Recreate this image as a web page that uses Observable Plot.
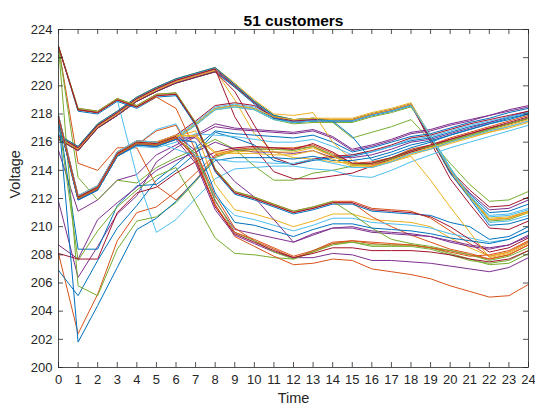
<!DOCTYPE html>
<html>
<head>
<meta charset="utf-8">
<script src="https://cdn.jsdelivr.net/npm/d3@7"></script>
<script src="https://cdn.jsdelivr.net/npm/@observablehq/plot@0.6"></script>
<style>
  html, body { margin: 0; padding: 0; background: #fff; }
  #chart { width: 535px; height: 408px; }
</style>
</head>
<body>
<div id="chart"></div>
<script>
const title = "51 customers";
const xLabel = "Time";
const yLabel = "Voltage";
const hours = [0,1,2,3,4,5,6,7,8,9,10,11,12,13,14,15,16,17,18,19,20,21,22,23,24];
const yTicks = [200,202,204,206,208,210,212,214,216,218,220,222,224];

// Voltage of each customer, hours 0..24
const c01 = [217.7,212.0,212.7,215.1,215.9,215.8,216.3,217.3,218.4,218.6,218.4,217.7,217.4,217.5,217.5,217.5,217.9,218.2,218.6,216.3,213.9,212.3,211.0,211.1,211.6];
const c02 = [216.2,215.4,217.0,217.9,218.9,219.6,220.2,220.6,221.0,219.9,218.8,217.8,217.5,217.6,217.6,217.6,218.0,218.3,218.7,216.3,213.8,212.1,210.5,210.6,211.1];
const c03 = [216.4,215.6,217.2,218.1,219.1,219.8,220.4,220.8,221.2,220.1,218.9,217.9,217.6,217.7,217.7,217.7,218.1,218.4,218.8,216.4,214.1,212.2,210.6,210.7,211.1];
const c04 = [216.4,215.6,217.2,218.1,219.1,219.8,220.4,220.8,221.2,220.0,218.8,217.8,217.5,217.6,217.6,217.6,218.0,218.3,218.7,216.3,213.9,212.4,211.2,211.3,211.9];
const c05 = [216.5,215.7,217.3,218.2,219.2,219.9,220.5,220.9,221.3,220.1,218.9,217.9,217.6,217.7,217.4,216.3,216.7,217.1,217.6,216.1,214.5,213.0,211.8,211.9,212.5];
const c06 = [216.2,215.4,217.0,217.9,218.9,219.6,220.2,220.6,221.0,220.0,218.8,217.8,217.5,217.6,217.6,217.6,218.0,218.3,218.7,216.4,214.0,212.2,210.8,210.9,211.3];
const c07 = [216.3,215.5,217.1,218.0,219.0,219.7,220.3,220.7,221.1,220.0,218.8,217.7,217.4,217.5,217.5,217.5,217.9,218.2,218.6,216.2,214.0,212.6,211.4,211.5,212.1];
const c08 = [216.2,215.4,217.0,217.9,218.9,219.6,220.2,220.6,221.0,219.9,218.7,217.7,217.4,217.5,217.5,217.5,217.9,218.2,218.6,216.4,213.8,212.0,210.1,210.2,210.6];
const c09 = [208.1,202.4,205.2,209.0,211.0,211.4,212.5,213.8,215.1,215.5,215.6,215.6,215.6,215.8,215.2,214.5,214.6,214.9,215.5,215.8,216.3,216.7,217.1,217.5,217.9];
const c10 = [216.3,215.5,217.1,218.0,219.0,219.7,220.3,220.7,221.1,219.0,216.6,215.3,214.9,214.8,214.6,214.5,214.2,214.6,215.1,215.5,215.9,216.3,216.7,217.0,217.4];
const c11 = [215.4,211.1,211.9,213.3,213.7,215.1,215.8,216.5,217.3,217.0,216.9,216.8,216.7,216.9,216.4,215.5,215.8,216.2,216.7,216.9,217.3,217.6,217.9,218.3,218.6];
const c12 = [217.6,211.9,212.6,215.0,215.8,215.7,216.2,217.2,218.3,218.5,218.3,217.6,217.3,217.4,217.4,217.4,217.8,218.1,218.5,216.5,214.2,212.2,210.4,210.5,211.0];
const c13 = [217.8,212.1,212.8,215.2,216.0,215.9,216.4,217.4,218.5,218.7,218.5,217.8,217.5,217.6,217.6,217.6,218.0,218.3,218.7,216.5,214.2,212.1,210.3,210.4,210.8];
const c14 = [217.9,212.2,212.9,215.3,216.1,216.0,216.5,217.5,218.6,218.8,218.6,217.8,217.5,217.6,217.6,217.6,218.0,218.3,218.7,216.0,213.4,211.6,209.9,209.8,210.4];
const c15 = [206.9,205.1,207.6,209.9,211.5,213.3,214.4,215.6,216.8,216.6,216.5,216.4,216.3,216.5,216.0,215.3,215.6,216.0,216.4,216.6,217.0,217.4,217.7,218.1,218.4];
const c16 = [222.8,214.5,214.0,215.6,215.6,212.9,211.9,213.3,215.0,215.4,215.5,215.5,215.5,215.7,215.0,214.4,214.4,214.8,215.3,215.7,216.1,216.5,216.9,217.3,217.7];
const c17 = [216.5,215.7,217.3,218.2,219.2,219.9,220.5,220.9,221.3,220.2,219.0,218.0,217.9,218.1,216.0,214.7,214.2,214.7,215.2,215.6,216.0,216.4,216.8,217.2,217.6];
const c18 = [211.8,206.4,208.6,210.9,212.2,214.6,215.6,216.4,217.1,216.9,216.8,216.7,216.6,216.8,216.3,215.4,215.7,216.1,216.6,216.8,217.2,217.5,217.9,218.2,218.5];
const c19 = [222.8,213.5,211.9,213.3,213.1,214.2,214.9,215.5,216.2,215.5,214.3,213.3,213.3,213.8,214.0,214.3,214.5,214.9,215.4,215.7,216.1,216.5,216.9,217.3,217.7];
const c20 = [222.8,218.3,218.1,219.0,213.6,209.6,210.5,212.0,213.4,214.1,214.2,214.3,214.3,214.1,214.0,213.6,213.5,214.0,214.6,215.1,215.6,216.0,216.4,216.8,217.2];
const c21 = [216.4,215.6,217.2,218.1,219.1,219.8,220.4,220.8,221.2,217.8,215.6,213.9,213.4,213.4,213.6,213.8,214.3,214.8,215.3,215.7,216.2,216.6,217.0,217.3,217.7];
const c22 = [217.9,208.4,208.4,211.5,212.9,213.0,214.0,215.2,216.7,216.3,215.8,214.7,214.4,214.7,214.9,215.0,215.3,215.7,216.1,216.3,216.7,217.1,217.4,217.8,218.1];
const c23 = [222.8,218.4,218.2,219.1,218.6,219.4,219.5,217.4,214.1,212.5,212.1,211.6,211.1,211.4,211.8,211.8,211.3,211.2,211.1,210.6,209.7,208.8,207.9,208.2,208.9];
const c24 = [217.8,212.1,212.8,215.2,216.0,215.9,216.4,216.8,213.0,211.2,210.9,210.5,210.0,210.4,210.9,210.9,210.5,210.4,210.3,210.0,209.2,208.5,207.9,208.2,209.0];
const c25 = [208.7,207.7,210.5,211.7,212.8,214.0,214.7,215.3,216.0,215.5,215.3,215.3,215.2,215.4,214.9,214.9,215.1,215.5,216.0,216.2,216.6,217.0,217.4,217.8,218.2];
const c26 = [222.8,205.8,205.1,208.4,210.4,210.7,211.7,213.2,214.9,215.4,215.5,215.5,215.4,215.7,215.1,214.4,214.5,214.8,215.4,215.7,216.1,216.5,216.9,217.3,217.7];
const c27 = [217.6,211.9,212.6,215.0,215.7,215.6,216.0,216.6,216.5,216.4,216.2,216.0,216.0,216.2,215.7,215.1,215.3,215.7,216.2,216.4,216.8,217.2,217.5,217.8,218.1];
const c28 = [216.2,215.4,217.0,217.9,218.9,219.6,220.2,220.6,221.0,219.6,217.2,214.9,214.4,214.8,215.0,215.1,215.4,215.8,216.3,216.5,216.9,217.3,217.6,217.9,218.2];
const c29 = [216.5,215.7,217.3,218.2,219.2,219.9,220.5,220.9,221.3,220.1,218.9,217.9,217.6,217.7,217.5,216.4,214.7,215.1,215.6,216.0,216.5,216.9,217.3,217.7,218.0];
const c30 = [222.8,218.3,218.1,219.0,218.5,219.3,219.4,217.3,214.0,212.4,212.0,211.5,211.0,211.3,211.7,211.7,210.7,210.0,209.4,208.9,208.4,208.1,207.7,208.0,208.7];
const c31 = [217.7,212.0,212.7,215.1,215.9,215.8,216.3,217.3,218.4,218.6,218.4,217.8,217.6,217.7,217.6,217.6,218.0,218.3,218.7,216.4,214.0,212.1,210.5,210.6,211.0];
const c32 = [217.9,212.2,212.9,215.3,216.1,216.0,216.5,215.4,211.8,209.8,209.5,209.2,208.9,209.4,209.9,209.9,209.6,209.5,209.4,209.3,208.9,208.6,208.4,208.7,209.3];
const c33 = [217.6,207.6,209.7,211.4,212.6,213.6,214.2,211.7,209.2,208.1,208.0,207.8,207.7,208.3,208.8,208.9,208.6,208.6,208.6,208.4,208.0,207.6,207.4,207.6,208.3];
const c34 = [217.6,211.9,212.6,215.0,215.8,216.9,217.3,214.9,212.1,210.8,210.5,210.1,209.7,210.1,210.6,210.6,210.3,210.2,210.1,209.9,209.5,209.2,208.9,209.1,209.7];
const c35 = [208.1,207.7,207.7,211.0,212.4,212.8,213.8,214.6,215.3,215.6,215.7,215.6,215.5,215.9,215.3,214.5,214.5,214.9,215.4,215.8,216.2,216.6,217.0,217.4,217.8];
const c36 = [222.8,218.2,218.0,218.9,218.4,219.2,219.3,217.2,213.9,212.3,211.9,211.4,210.9,211.2,211.6,211.6,211.1,211.0,210.9,210.8,210.3,210.0,209.1,209.3,210.0];
const c37 = [222.8,218.3,218.1,219.0,218.5,219.2,218.4,215.4,212.2,209.9,209.0,208.4,207.8,208.2,208.8,209.0,208.8,208.7,208.7,208.5,208.3,208.0,207.7,208.0,208.7];
const c38 = [217.8,212.1,212.8,215.2,216.0,215.9,216.4,216.5,215.3,215.3,215.4,215.3,215.3,215.6,215.0,214.4,214.3,214.7,215.2,215.6,216.0,216.4,216.7,217.1,217.5];
const c39 = [217.7,212.0,212.7,215.1,215.9,215.8,216.3,216.3,214.8,213.2,212.1,210.5,208.9,209.5,209.9,210.0,209.7,209.6,209.5,209.3,209.0,208.7,208.5,208.7,209.4];
const c40 = [222.8,218.4,218.2,219.1,218.6,219.4,219.5,217.4,214.1,212.5,212.1,211.6,211.1,211.4,211.8,210.9,209.9,209.1,208.8,208.6,208.3,208.0,207.6,207.9,208.5];
const c41 = [217.6,211.9,212.6,215.0,215.8,215.7,216.2,217.2,218.3,218.5,218.3,217.6,217.4,217.5,217.5,217.5,217.9,218.2,218.6,216.4,214.1,212.2,210.7,210.8,211.2];
const c42 = [222.8,218.3,218.1,219.0,218.5,219.3,219.4,217.3,214.0,212.4,212.0,211.5,211.0,211.3,211.7,211.7,211.2,211.1,211.0,210.7,210.0,209.1,208.2,208.5,209.2];
const c43 = [217.9,201.8,204.4,207.1,209.8,210.6,211.8,213.3,214.7,214.9,214.9,214.9,214.8,215.0,214.7,214.7,214.9,215.3,215.8,216.1,216.5,216.9,217.3,217.6,218.0];
const c44 = [217.8,212.1,212.8,215.2,215.8,216.8,217.2,214.6,211.6,209.3,208.6,207.9,207.3,207.4,207.7,207.6,207.0,206.8,206.6,206.3,205.8,205.4,205.0,205.1,205.9];
const c45 = [217.9,212.2,212.9,215.3,216.1,216.0,216.5,216.4,215.2,215.2,215.2,215.1,215.1,215.4,214.8,214.3,214.3,214.6,215.0,213.3,211.4,209.6,207.8,208.1,208.8];
const c46 = [217.6,211.9,212.6,215.0,215.8,215.7,216.2,214.5,211.2,209.4,208.8,208.2,207.8,207.8,208.1,208.0,207.6,207.6,207.5,207.4,207.2,207.0,206.8,207.1,207.8];
const c47 = [217.7,212.0,212.7,215.1,215.9,215.8,216.3,215.2,211.9,209.6,209.0,208.2,207.7,208.2,208.7,208.9,208.7,208.7,208.7,208.5,208.1,207.7,207.3,207.4,208.1];
const c48 = [217.9,212.2,212.9,215.3,216.1,216.0,215.5,215.0,214.8,214.6,214.6,214.5,214.5,214.8,214.5,214.2,214.2,214.6,215.2,215.5,216.0,216.4,216.8,217.1,217.5];
const c49 = [217.8,212.1,212.8,215.2,216.0,215.9,216.4,214.8,211.4,209.5,208.9,208.3,207.8,208.1,208.5,208.5,208.3,208.3,208.3,208.2,208.0,207.7,207.5,207.7,208.3];
const c50 = [217.6,211.9,212.6,215.0,215.8,215.7,216.2,216.0,212.4,210.3,210.1,209.7,209.3,209.8,210.2,210.2,209.9,209.8,209.7,209.5,209.2,209.0,208.8,209.1,209.7];
const c51 = [217.7,212.0,212.7,215.1,215.9,215.8,216.3,215.0,211.5,209.6,209.1,208.5,207.9,208.3,208.9,209.0,208.9,208.8,208.7,208.5,208.2,207.9,208.0,208.3,209.0];

const customers = [c01,c02,c03,c04,c05,c06,c07,c08,c09,c10,c11,c12,c13,c14,c15,c16,c17,c18,c19,c20,
  c21,c22,c23,c24,c25,c26,c27,c28,c29,c30,c31,c32,c33,c34,c35,c36,c37,c38,c39,c40,
  c41,c42,c43,c44,c45,c46,c47,c48,c49,c50,c51];

// MATLAB default colour order, cycled over the plotting order
const colorOrder = ["#0072BD","#D95319","#EDB120","#7E2F8E","#77AC30","#4DBEEE","#A2142F"];

customers.forEach((a, i) => { if (a.length !== hours.length) throw new Error("series " + (i + 1) + " has " + a.length + " values"); });

const names = customers.map((_, i) => "Customer " + (i + 1));
const rows = customers.flatMap((vals, i) => vals.map((v, j) => ({time: hours[j], voltage: v, customer: names[i]})));

const W = 535, H = 408, ML = 58, MR = 7, MT = 29, MB = 41;
const fw = W - ML - MR, fh = H - MT - MB, tick = 5;
const axisColor = "#262626";

const chart = Plot.plot({
  width: W, height: H,
  marginLeft: ML, marginRight: MR, marginTop: MT, marginBottom: MB,
  style: {fontFamily: "'Liberation Sans', Arial, Helvetica, sans-serif", fontSize: "13px", background: "#fff", color: axisColor},
  x: {domain: [0, 24], label: null},
  y: {domain: [200, 224], label: null},
  color: {type: "ordinal", domain: names, range: names.map((_, i) => colorOrder[i % colorOrder.length])},
  marks: [
    Plot.line(rows, {x: "time", y: "voltage", z: "customer", stroke: "customer", strokeWidth: 1}),
    Plot.frame({stroke: axisColor, strokeWidth: 0.8}),
    Plot.tickX(hours, {x: d => d, insetTop: fh - tick, stroke: axisColor, strokeWidth: 0.8}),
    Plot.tickX(hours, {x: d => d, insetBottom: fh - tick, stroke: axisColor, strokeWidth: 0.8}),
    Plot.tickY(yTicks, {y: d => d, insetRight: fw - tick, stroke: axisColor, strokeWidth: 0.8}),
    Plot.tickY(yTicks, {y: d => d, insetLeft: fw - tick, stroke: axisColor, strokeWidth: 0.8}),
    Plot.axisX({ticks: hours, tickSize: 0, tickPadding: 7, tickFormat: d => String(d), label: null, fill: axisColor}),
    Plot.axisY({ticks: yTicks, tickSize: 0, tickPadding: 6, tickFormat: d => String(d), label: null, fill: axisColor}),
    Plot.text([title], {frameAnchor: "top", dy: -15, fontWeight: "bold", fontSize: 15.5, fill: "#000"}),
    Plot.text([xLabel], {frameAnchor: "bottom", dy: 35, fontSize: 14.5, fill: axisColor}),
    Plot.text([yLabel], {frameAnchor: "left", dx: -43, rotate: -90, fontSize: 14.5, fill: axisColor})
  ]
});
document.getElementById("chart").appendChild(chart);
</script>
</body>
</html>
